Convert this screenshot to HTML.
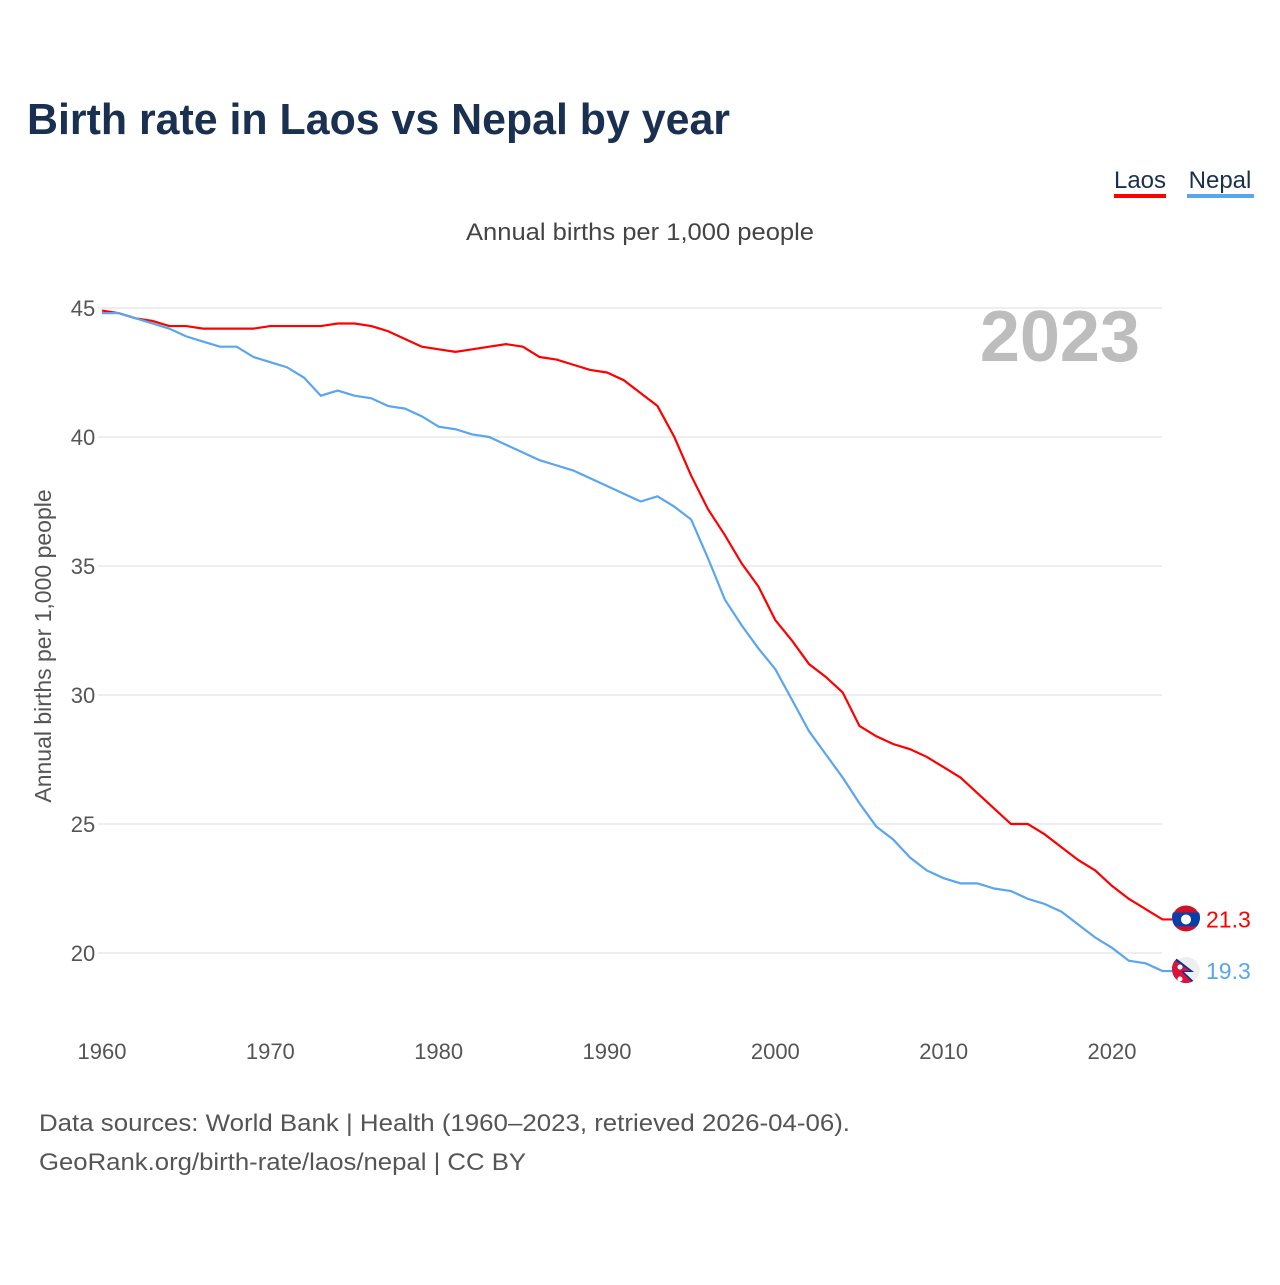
<!DOCTYPE html>
<html><head><meta charset="utf-8"><style>
body{margin:0;background:#fff;width:1280px;height:1280px;overflow:hidden;font-family:"Liberation Sans",sans-serif}
</style></head><body>
<svg width="1280" height="1280" xmlns="http://www.w3.org/2000/svg">
<defs><clipPath id="cl"><circle cx="1186" cy="917.5" r="14"/></clipPath><clipPath id="cn"><circle cx="1186" cy="969.1" r="14"/></clipPath></defs>
<text x="27" y="134" font-size="44" font-weight="bold" fill="#1a3050" textLength="703" lengthAdjust="spacingAndGlyphs">Birth rate in Laos vs Nepal by year</text>
<g>
<text x="1140" y="188" font-size="24" fill="#1a3050" text-anchor="middle">Laos</text>
<rect x="1114" y="194" width="52" height="4" fill="#ff0000"/>
<text x="1220" y="188" font-size="24" fill="#1a3050" text-anchor="middle">Nepal</text>
<rect x="1187" y="194" width="67" height="4" fill="#5aa6ee"/>
</g>
<text x="466" y="240" font-size="24" fill="#444" textLength="348" lengthAdjust="spacingAndGlyphs">Annual births per 1,000 people</text>
<text x="1140" y="361" font-size="72" font-weight="bold" fill="#bdbdbd" text-anchor="end">2023</text>
<text transform="translate(51,646) rotate(-90)" font-size="23" fill="#555" text-anchor="middle">Annual births per 1,000 people</text>
<g id="grid"></g><g id="lines"></g><g id="ends"></g>
<text x="39" y="1131" font-size="24" fill="#555" textLength="811" lengthAdjust="spacingAndGlyphs">Data sources: World Bank | Health (1960–2023, retrieved 2026-04-06).</text>
<text x="39" y="1170" font-size="24" fill="#555" textLength="487" lengthAdjust="spacingAndGlyphs">GeoRank.org/birth-rate/laos/nepal | CC BY</text>
</svg>
<script>
const years=[];for(let y=1960;y<=2023;y++)years.push(y);
const laos=[44.9,44.8,44.6,44.5,44.3,44.3,44.2,44.2,44.2,44.2,44.3,44.3,44.3,44.3,44.4,44.4,44.3,44.1,43.8,43.5,43.4,43.3,43.4,43.5,43.6,43.5,43.1,43.0,42.8,42.6,42.5,42.2,41.7,41.2,40.0,38.5,37.2,36.2,35.1,34.2,32.9,32.1,31.2,30.7,30.1,28.8,28.4,28.1,27.9,27.6,27.2,26.8,26.2,25.6,25.0,25.0,24.6,24.1,23.6,23.2,22.6,22.1,21.7,21.3];
const nepal=[44.8,44.8,44.6,44.4,44.2,43.9,43.7,43.5,43.5,43.1,42.9,42.7,42.3,41.6,41.8,41.6,41.5,41.2,41.1,40.8,40.4,40.3,40.1,40.0,39.7,39.4,39.1,38.9,38.7,38.4,38.1,37.8,37.5,37.7,37.3,36.8,35.3,33.7,32.7,31.8,31.0,29.8,28.6,27.7,26.8,25.8,24.9,24.4,23.7,23.2,22.9,22.7,22.7,22.5,22.4,22.1,21.9,21.6,21.1,20.6,20.2,19.7,19.6,19.3];
const yTicks=[20,25,30,35,40,45];
const xTicks=[1960,1970,1980,1990,2000,2010,2020];
const NS='http://www.w3.org/2000/svg';
const X=v=>102+(v-1960)*1010/60, Y=v=>308+(45-v)*25.8;
function mk(t,a,p){const e=document.createElementNS(NS,t);for(const k in a)e.setAttribute(k,a[k]);p.appendChild(e);return e;}
const g=document.getElementById('grid');
yTicks.forEach(t=>{const l=mk('line',{x1:98,x2:1162,y1:Y(t),y2:Y(t),stroke:'#e8e8e8','stroke-width':1.5},g);


const tx=mk('text',{x:83,y:Y(t)+8,'font-size':22,fill:'#555','text-anchor':'middle'},g);tx.textContent=t;

});
xTicks.forEach(t=>{const tx=mk('text',{x:X(t),y:1059,'font-size':22,fill:'#555','text-anchor':'middle'},g);tx.textContent=t;

});
const L=document.getElementById('lines');
[[laos,'#ff0000','laos-line'],[nepal,'#5aa6ee','nepal-line']].forEach(([d,c,n])=>{
const pts=d.map((v,i)=>X(years[i])+','+Y(v));pts.push('1172,'+Y(d[d.length-1]));
const p=mk('polyline',{points:pts.join(' '),fill:'none',stroke:c,'stroke-width':2.2},L);

});
const E=document.getElementById('ends');
const ly=Y(laos[laos.length-1]), ny=Y(nepal[nepal.length-1]), fx=1186;
const lf=mk('g',{'clip-path':'url(#cl)'},E);


mk('circle',{cx:fx,cy:ly,r:14,fill:'#ce1126'},lf);
mk('rect',{x:fx-14,y:ly-7,width:28,height:14,fill:'#0a3fa8'},lf);
mk('circle',{cx:fx,cy:ly,r:5,fill:'#fff'},lf);
const nf=mk('g',{'clip-path':'url(#cn)'},E);


mk('circle',{cx:fx,cy:ny,r:14,fill:'#eee'},nf);
mk('polygon',{points:`${fx-14},${ny-16} ${fx+8},${ny+1} ${fx-2},${ny+1} ${fx+14},${ny+16} ${fx-14},${ny+16}`,fill:'#003893'},nf);
mk('polygon',{points:`${fx-14},${ny-13} ${fx+4},${ny} ${fx-5},${ny} ${fx+10},${ny+15} ${fx-14},${ny+15}`,fill:'#dc143c'},nf);
mk('circle',{cx:fx-6,cy:ny-4,r:2.5,fill:'#fff'},nf);mk('circle',{cx:fx-6,cy:ny+8,r:2.5,fill:'#fff'},nf);
const t1=mk('text',{x:1206,y:ly+8,'font-size':23,fill:'#ff0000'},E);t1.textContent=laos[laos.length-1].toFixed(1);


const t2=mk('text',{x:1206,y:ny+8,'font-size':23,fill:'#5aa6ee'},E);t2.textContent=nepal[nepal.length-1].toFixed(1);


</script>
</body></html>
